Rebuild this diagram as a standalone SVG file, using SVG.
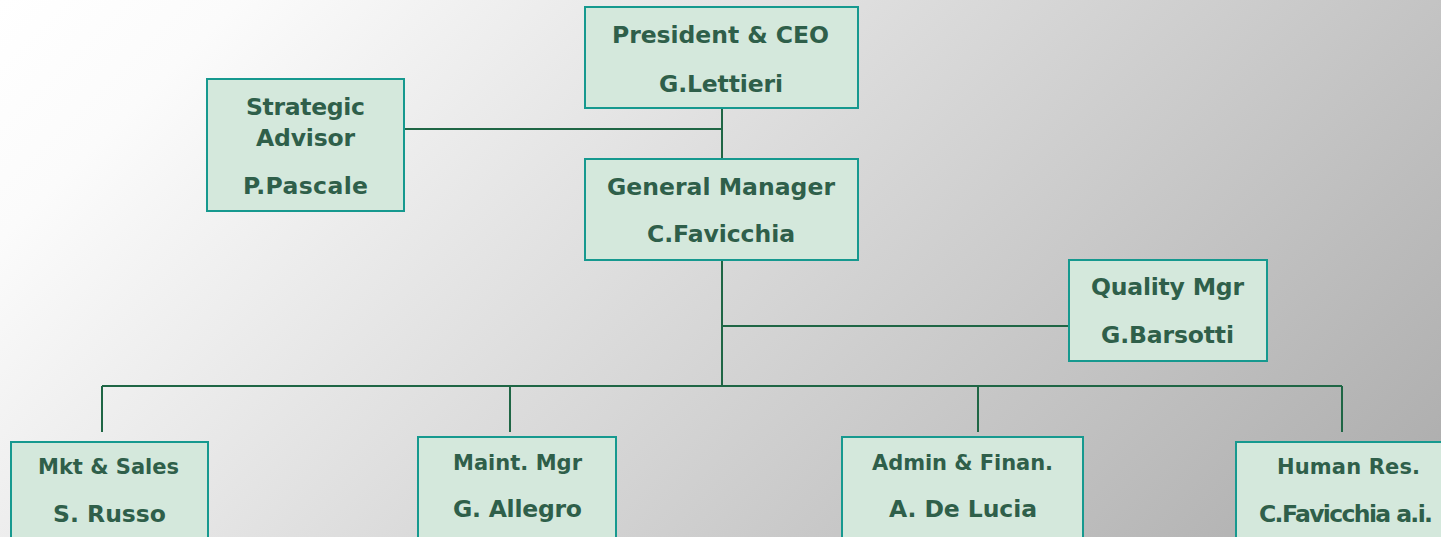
<svg xmlns="http://www.w3.org/2000/svg" width="1441" height="537" viewBox="0 0 1441 537">
<defs>
<linearGradient id="bg" gradientUnits="userSpaceOnUse" x1="0" y1="0" x2="1000" y2="1000">
<stop offset="0" stop-color="#ffffff"/>
<stop offset="0.12" stop-color="#fbfbfb"/>
<stop offset="1" stop-color="#aaaaaa"/>
</linearGradient>
<style>
.box{fill:#d4e8dc;stroke:#16998f;stroke-width:2}
.t{font-family:"DejaVu Sans","Liberation Sans",sans-serif;font-weight:bold;font-size:23.5px;fill:#2f5f4a;text-anchor:middle}
.s{font-size:21px}
.c{stroke:#1f6645;stroke-width:2;fill:none}
</style>
</defs>
<rect x="0" y="0" width="1441" height="537" fill="url(#bg)"/>
<g id="connectors">
<path class="c" d="M722 108V159"/>
<path class="c" d="M404 129H722"/>
<path class="c" d="M722 260V386"/>
<path class="c" d="M722 326H1069"/>
<path class="c" d="M102 386H1342"/>
<path class="c" d="M102 386V432M510 386V432M978 386V432M1342 386V432"/>
</g>
<g id="president">
<rect class="box" x="585" y="7" width="273" height="101"/>
<text class="t" x="720.5" y="43" textLength="217">President &amp; CEO</text>
<text class="t" x="721" y="92" textLength="124">G.Lettieri</text>
</g>
<g id="advisor">
<rect class="box" x="207" y="79" width="197" height="132"/>
<text class="t" x="305.5" y="115" textLength="119">Strategic</text>
<text class="t" x="305.5" y="146" textLength="99">Advisor</text>
<text class="t" x="305.5" y="194" textLength="125">P.Pascale</text>
</g>
<g id="gm">
<rect class="box" x="585" y="159" width="273" height="101"/>
<text class="t" x="721" y="195" textLength="228">General Manager</text>
<text class="t" x="721" y="242" textLength="148">C.Favicchia</text>
</g>
<g id="quality">
<rect class="box" x="1069" y="260" width="198" height="101"/>
<text class="t" x="1167.5" y="295" textLength="153">Quality Mgr</text>
<text class="t" x="1167.5" y="343" textLength="133">G.Barsotti</text>
</g>
<g id="mkt">
<rect class="box" x="11" y="442" width="197" height="110"/>
<text class="t s" x="108.5" y="474" textLength="141">Mkt &amp; Sales</text>
<text class="t" x="109.5" y="522" textLength="113">S. Russo</text>
</g>
<g id="maint">
<rect class="box" x="418" y="437" width="198" height="110"/>
<text class="t s" x="517.5" y="470" textLength="129">Maint. Mgr</text>
<text class="t" x="517.5" y="517" textLength="129">G. Allegro</text>
</g>
<g id="admin">
<rect class="box" x="842" y="437" width="241" height="110"/>
<text class="t s" x="962.5" y="470" textLength="181">Admin &amp; Finan.</text>
<text class="t" x="963" y="517" textLength="148">A. De Lucia</text>
</g>
<g id="hr">
<rect class="box" x="1236" y="442" width="225" height="110"/>
<text class="t s" x="1348.5" y="474" textLength="143">Human Res.</text>
<text class="t" x="1346" y="522" textLength="174">C.Favicchia a.i.</text>
</g>
</svg>
